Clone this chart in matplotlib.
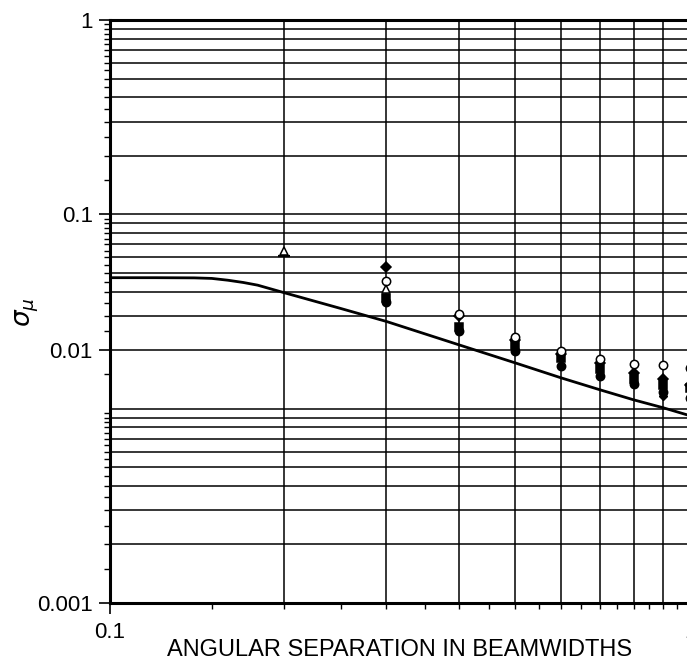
#!/usr/bin/env python3

import numpy as np
import matplotlib
matplotlib.use("Agg")
import matplotlib.pyplot as plt
from matplotlib.ticker import FixedLocator, NullFormatter

# theoretical curve
curve_x = [0.1, 0.12, 0.14, 0.15, 0.16, 0.17, 0.18, 0.2, 0.25, 0.3,
           0.4, 0.5, 0.6, 0.7, 0.8, 0.9, 1.0]
curve_y = [0.0472, 0.0472, 0.0471, 0.0468, 0.0458, 0.0446, 0.0432, 0.0395,
           0.0328, 0.0281, 0.0213, 0.0172, 0.0144, 0.0125, 0.0111, 0.0101,
           0.0092]

# measured points, one list per marker style
tri_x = [0.2, 0.3]
tri_y = [0.065, 0.0412]
dash_x = [0.2]
dash_y = [0.061]
diam_x = [0.3, 0.4, 0.5, 0.6, 0.7, 0.8, 0.9, 1.0]
diam_y = [0.0537, 0.0300, 0.0226, 0.0192, 0.0172, 0.0152, 0.0142, 0.0133]
circ_x = [0.3, 0.4, 0.5, 0.6, 0.7, 0.8, 0.9, 1.0]
circ_y = [0.0454, 0.0307, 0.0233, 0.0198, 0.0180, 0.0169, 0.0167, 0.0162]
sq_x = [0.3, 0.4, 0.5, 0.6, 0.7, 0.8, 0.9, 1.0]
sq_y = [0.0371, 0.0264, 0.0212, 0.0182, 0.0160, 0.0142, 0.0132, 0.0128]
dot_x = [0.3, 0.4, 0.5, 0.6, 0.7, 0.8, 0.9, 1.0]
dot_y = [0.0356, 0.0250, 0.0198, 0.0166, 0.0148, 0.0134, 0.0122, 0.0113]
low_x = [0.9]
low_y = [0.0116]

ytick_pos = [0.001, 0.02, 0.1, 1]
ytick_txt = ["0.001", "0.01", "0.1", "1"]
xtick_pos = [0.1, 1.0]
xtick_txt = ["0.1", "1"]

plt.rcParams["font.family"] = ["Liberation Sans", "DejaVu Sans"]

fig = plt.figure(figsize=(6.87, 6.61), dpi=100)
ax = fig.add_axes([109.5 / 687, 58 / 661, 580.5 / 687, 583 / 661])
ax.set_xscale("log")
ax.set_yscale("log")
ax.set_xlim(0.1, 1)
ax.set_ylim(0.001, 1)

# grid: every 1..9 step of each decade
decades = [0.001, 0.01, 0.1]
ygrid = [k * d for d in decades for k in range(1, 10)] + [1]
xgrid = [k * 0.1 for k in range(2, 10)]
for g in ygrid:
    ax.axhline(g, color="black", lw=1.1, zorder=1)
for g in xgrid:
    ax.axvline(g, color="black", lw=1.1, zorder=1)

ax.plot(curve_x, curve_y, color="black", lw=2.0, zorder=3)

mk = dict(color="black", linestyle="none", markersize=6, zorder=4,
          clip_on=False, markeredgewidth=1.1)
ax.plot(sq_x, sq_y, marker="s", **mk)
ax.plot(dot_x, dot_y, marker="o", **mk)
ax.plot(low_x, low_y, marker="D", markersize=4, color="black",
        linestyle="none", zorder=4)
ax.plot(diam_x, diam_y, marker="D", **{**mk, "markersize": 5})
ax.plot(circ_x, circ_y, marker="o", markerfacecolor="white", **mk)
ax.plot(tri_x, tri_y, marker="^", markerfacecolor="white", **mk)
ax.plot(dash_x, dash_y, marker="_", **{**mk, "markersize": 8,
                                        "markeredgewidth": 1.6})

# ticks
ax.yaxis.set_major_locator(FixedLocator(ytick_pos))
ax.set_yticklabels(ytick_txt)
yminor = [k * d for d in decades for k in np.arange(1.5, 10, 0.5)]
ax.yaxis.set_minor_locator(FixedLocator(yminor))
ax.yaxis.set_minor_formatter(NullFormatter())

ax.xaxis.set_major_locator(FixedLocator(xtick_pos))
ax.set_xticklabels(xtick_txt)
xminor = xgrid + [k * 0.1 for k in np.arange(1.5, 10, 1.0)]
ax.xaxis.set_minor_locator(FixedLocator(xminor))
ax.xaxis.set_minor_formatter(NullFormatter())

ax.tick_params(axis="both", which="major", direction="out", length=8,
               width=1.2, labelsize=16, pad=4)
ax.tick_params(axis="both", which="minor", direction="out", length=4,
               width=1.0)
ax.tick_params(axis="x", which="major", pad=6)

for side in ["left", "bottom", "top"]:
    ax.spines[side].set_linewidth(2.2)
ax.spines["right"].set_visible(False)

ax.set_xlabel("ANGULAR SEPARATION IN BEAMWIDTHS", fontsize=17, labelpad=-3)
fig.text(0.040, 0.528, r"$\sigma_{\mu}$", rotation=90, fontsize=19,
         ha="center", va="center")

fig.savefig("out.png", dpi=100)
